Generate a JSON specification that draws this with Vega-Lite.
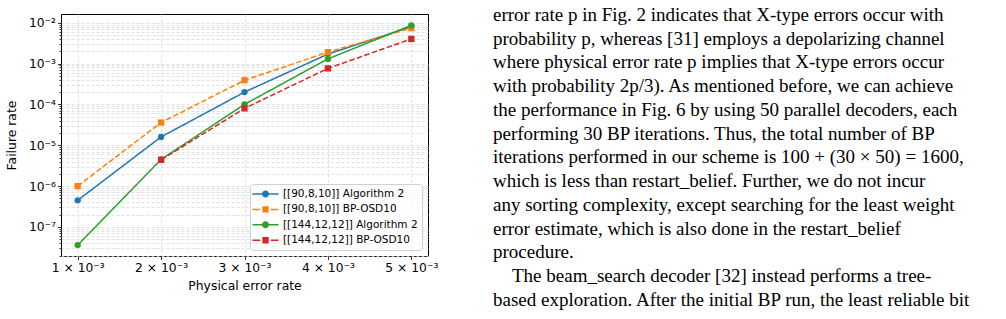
{
  "$schema": "https://vega.github.io/schema/vega-lite/v6.json",
  "background": "white",
  "padding": {"left": 5, "top": 5, "right": 0, "bottom": 0},
  "spacing": 65,
  "bounds": "flush",
  "resolve": {"legend": {"color": "independent"}, "scale": {"color": "independent"}},
  "config": {
    "font": "DejaVu Sans",
    "view": {"stroke": "black", "strokeWidth": 1},
    "axis": {
      "labelFont": "DejaVu Sans", "labelFontSize": 12.3, "labelColor": "black",
      "titleFont": "DejaVu Sans", "titleFontSize": 12.4, "titleFontWeight": "normal", "titleColor": "black",
      "tickColor": "black", "tickWidth": 0.8, "domain": false,
      "gridColor": "#d9d9d9", "gridDash": [3, 2], "gridWidth": 0.8
    }
  },
  "datasets": {
    "rates": [
      {"series": "[[90,8,10]] Algorithm 2", "decoder": "Algorithm 2", "p": 0.001, "rate": 4.5e-7},
      {"series": "[[90,8,10]] Algorithm 2", "decoder": "Algorithm 2", "p": 0.002, "rate": 1.6e-5},
      {"series": "[[90,8,10]] Algorithm 2", "decoder": "Algorithm 2", "p": 0.003, "rate": 2.0e-4},
      {"series": "[[90,8,10]] Algorithm 2", "decoder": "Algorithm 2", "p": 0.004, "rate": 1.7e-3},
      {"series": "[[90,8,10]] Algorithm 2", "decoder": "Algorithm 2", "p": 0.005, "rate": 8.0e-3},
      {"series": "[[90,8,10]] BP-OSD10", "decoder": "BP-OSD10", "p": 0.001, "rate": 1.0e-6},
      {"series": "[[90,8,10]] BP-OSD10", "decoder": "BP-OSD10", "p": 0.002, "rate": 3.6e-5},
      {"series": "[[90,8,10]] BP-OSD10", "decoder": "BP-OSD10", "p": 0.003, "rate": 3.9e-4},
      {"series": "[[90,8,10]] BP-OSD10", "decoder": "BP-OSD10", "p": 0.004, "rate": 1.9e-3},
      {"series": "[[90,8,10]] BP-OSD10", "decoder": "BP-OSD10", "p": 0.005, "rate": 7.4e-3},
      {"series": "[[144,12,12]] Algorithm 2", "decoder": "Algorithm 2", "p": 0.001, "rate": 3.6e-8},
      {"series": "[[144,12,12]] Algorithm 2", "decoder": "Algorithm 2", "p": 0.002, "rate": 4.5e-6},
      {"series": "[[144,12,12]] Algorithm 2", "decoder": "Algorithm 2", "p": 0.003, "rate": 1.0e-4},
      {"series": "[[144,12,12]] Algorithm 2", "decoder": "Algorithm 2", "p": 0.004, "rate": 1.3e-3},
      {"series": "[[144,12,12]] Algorithm 2", "decoder": "Algorithm 2", "p": 0.005, "rate": 8.6e-3},
      {"series": "[[144,12,12]] BP-OSD10", "decoder": "BP-OSD10", "p": 0.002, "rate": 4.4e-6},
      {"series": "[[144,12,12]] BP-OSD10", "decoder": "BP-OSD10", "p": 0.003, "rate": 8.0e-5},
      {"series": "[[144,12,12]] BP-OSD10", "decoder": "BP-OSD10", "p": 0.004, "rate": 7.6e-4},
      {"series": "[[144,12,12]] BP-OSD10", "decoder": "BP-OSD10", "p": 0.005, "rate": 4.0e-3}
    ],
    "lines": [
      {"line": 1, "indent": 0, "text": "error rate p in Fig. 2 indicates that X-type errors occur with"},
      {"line": 2, "indent": 0, "text": "probability p, whereas [31] employs a depolarizing channel"},
      {"line": 3, "indent": 0, "text": "where physical error rate p implies that X-type errors occur"},
      {"line": 4, "indent": 0, "text": "with probability 2p/3). As mentioned before, we can achieve"},
      {"line": 5, "indent": 0, "text": "the performance in Fig. 6 by using 50 parallel decoders, each"},
      {"line": 6, "indent": 0, "text": "performing 30 BP iterations. Thus, the total number of BP"},
      {"line": 7, "indent": 0, "text": "iterations performed in our scheme is 100 + (30 × 50) = 1600,"},
      {"line": 8, "indent": 0, "text": "which is less than restart_belief. Further, we do not incur"},
      {"line": 9, "indent": 0, "text": "any sorting complexity, except searching for the least weight"},
      {"line": 10, "indent": 0, "text": "error estimate, which is also done in the restart_belief"},
      {"line": 11, "indent": 0, "text": "procedure."},
      {"line": 12, "indent": 1, "text": "The beam_search decoder [32] instead performs a tree-"},
      {"line": 13, "indent": 0, "text": "based exploration. After the initial BP run, the least reliable bit"}
    ]
  },
  "hconcat": [
    {
      "width": 367,
      "height": 242,
      "data": {"name": "rates"},
      "encoding": {
        "x": {
          "field": "p", "type": "quantitative",
          "scale": {"domain": [0.0008, 0.0052], "nice": false, "zero": false},
          "axis": {
            "title": "Physical error rate", "titlePadding": 6,
            "values": [0.001, 0.002, 0.003, 0.004, 0.005],
            "labelExpr": "format(datum.value*1000, '.0f') + ' × 10⁻³'",
            "tickSize": 3.5, "labelPadding": 2, "grid": true
          }
        },
        "y": {
          "field": "rate", "type": "quantitative",
          "scale": {"type": "log", "domain": [1.95e-8, 0.0163], "nice": false},
          "axis": {
            "title": "Failure rate", "titlePadding": 9.5,
            "values": [2e-8, 3e-8, 4e-8, 5e-8, 6e-8, 7e-8, 8e-8, 9e-8,
                       1e-7, 2e-7, 3e-7, 4e-7, 5e-7, 6e-7, 7e-7, 8e-7, 9e-7,
                       1e-6, 2e-6, 3e-6, 4e-6, 5e-6, 6e-6, 7e-6, 8e-6, 9e-6,
                       1e-5, 2e-5, 3e-5, 4e-5, 5e-5, 6e-5, 7e-5, 8e-5, 9e-5,
                       1e-4, 2e-4, 3e-4, 4e-4, 5e-4, 6e-4, 7e-4, 8e-4, 9e-4,
                       1e-3, 2e-3, 3e-3, 4e-3, 5e-3, 6e-3, 7e-3, 8e-3, 9e-3, 1e-2],
            "labelExpr": "abs(log(datum.value)/LN10 - round(log(datum.value)/LN10)) < 0.001 ? ['10⁻⁸','10⁻⁷','10⁻⁶','10⁻⁵','10⁻⁴','10⁻³','10⁻²'][round(log(datum.value)/LN10) + 8] : ''",
            "tickSize": {"condition": {"test": "abs(log(datum.value)/LN10 - round(log(datum.value)/LN10)) < 0.001", "value": 3.5}, "value": 2},
            "labelPadding": 2, "grid": true
          }
        },
        "color": {
          "field": "series", "type": "nominal",
          "scale": {
            "domain": ["[[90,8,10]] Algorithm 2", "[[90,8,10]] BP-OSD10", "[[144,12,12]] Algorithm 2", "[[144,12,12]] BP-OSD10"],
            "range": ["#1f77b4", "#ff7f0e", "#2ca02c", "#d62728"]
          },
          "legend": {
            "title": null, "orient": "bottom-right", "offset": 6,
            "symbolSize": 144, "symbolOffset": 5.5, "labelOffset": 11.5,
            "labelFont": "DejaVu Sans", "labelFontSize": 10.5, "labelColor": "black",
            "padding": 4, "rowPadding": 3.4,
            "strokeColor": "#d0d0d0", "fillColor": "rgba(255,255,255,0.8)", "cornerRadius": 3,
            "encode": {
              "symbols": {
                "update": {
                  "shape": {"signal": "indexof(datum.value, 'Algorithm') >= 0 ? 'M-2.17,-0.125H2.17V0.125H-2.17Z M-0.58,0A0.58,0.58,0,1,1,0.58,0A0.58,0.58,0,1,1,-0.58,0Z' : 'M-2.17,-0.125H-0.87V0.125H-2.17Z M0.87,-0.125H2.17V0.125H0.87Z M-0.53,-0.53H0.53V0.53H-0.53Z'"},
                  "fill": {"signal": "scale('color', datum.value)"},
                  "strokeWidth": {"value": 0},
                  "opacity": {"value": 1},
                  "fillOpacity": {"value": 1}
                }
              }
            }
          }
        }
      },
      "layer": [
        {
          "mark": {"type": "line", "strokeWidth": 1.5},
          "encoding": {
            "strokeDash": {
              "field": "decoder", "type": "nominal",
              "scale": {"domain": ["Algorithm 2", "BP-OSD10"], "range": [[1, 0], [5.5, 2.4]]},
              "legend": null
            }
          }
        },
        {
          "mark": {"type": "point", "filled": true, "opacity": 1, "size": 40},
          "encoding": {
            "shape": {
              "field": "decoder", "type": "nominal",
              "scale": {"domain": ["Algorithm 2", "BP-OSD10"], "range": ["circle", "square"]},
              "legend": null
            }
          }
        }
      ]
    },
    {
      "width": 480,
      "height": 305,
      "view": {"stroke": null},
      "data": {"name": "lines"},
      "mark": {"type": "text", "align": "left", "baseline": "middle", "font": "Liberation Serif", "fontSize": 19, "color": "black"},
      "encoding": {
        "x": {"field": "indent", "type": "quantitative", "scale": {"domain": [0, 25.26], "nice": false, "zero": false}, "axis": null},
        "y": {"field": "line", "type": "quantitative", "scale": {"domain": [0.958, 13.8], "reverse": true, "nice": false, "zero": false}, "axis": null},
        "text": {"field": "text", "type": "nominal"}
      }
    }
  ]
}
